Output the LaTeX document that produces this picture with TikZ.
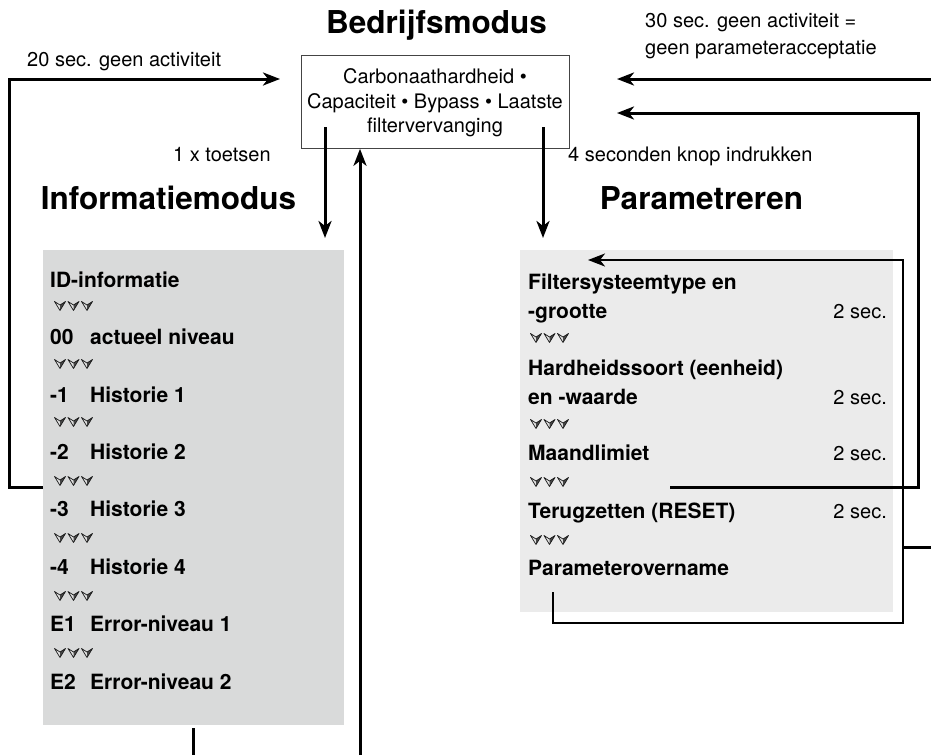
\documentclass[tikz,border=0pt]{standalone}
\usepackage{fontspec}
\setmainfont{TeX Gyre Heros}
\usetikzlibrary{arrows.meta}
\definecolor{leftgray}{HTML}{D9DADA}
\definecolor{rightgray}{HTML}{EBEBEB}
\definecolor{boxline}{HTML}{444444}
\tikzset{
  conn/.style={line width=3pt, -{Stealth[length=17pt,width=13pt,inset=5pt]}},
  plainline/.style={line width=3pt},
  title/.style={font=\fontsize{31.5}{36}\selectfont\bfseries, inner sep=0pt, anchor=base},
  lbl/.style={font=\fontsize{20}{24}\selectfont, inner sep=0pt, anchor=mid west, yshift=-4pt},
  boxtxt/.style={font=\fontsize{20}{24}\selectfont, inner sep=0pt, anchor=mid, yshift=-3pt},
  bodyb/.style={font=\fontsize{21}{25}\selectfont\bfseries, inner sep=0pt, anchor=mid west, yshift=-4.5pt},
  secs/.style={font=\fontsize{20}{24}\selectfont, inner sep=0pt, anchor=mid east, yshift=-4.5pt},
  dartrow/.pic={
    \foreach \dx in {0,13.5,27}{
      \fill[black!12] (\dx-5.5,-4.5) -- (\dx,-1) -- (\dx,4.5) -- cycle;
      \fill[black!72] (\dx,-1) -- (\dx+5.5,-4.5) -- (\dx,4.5) -- cycle;
      \draw[black!90, line width=0.7pt, line join=round] (\dx-5.5,-4.5) -- (\dx,-1) -- (\dx+5.5,-4.5) -- (\dx,4.5) -- cycle;
    }
  }
}
\begin{document}
\begin{tikzpicture}[x=1pt, y=-1pt]
\useasboundingbox (0,0) rectangle (931,755);

% gray panels
\node[fill=leftgray, minimum width=301pt, minimum height=475pt, anchor=north west, inner sep=0pt] (lbox) at (43,250) {};
\node[fill=rightgray, minimum width=373pt, minimum height=362pt, anchor=north west, inner sep=0pt] (rbox) at (520,250) {};

% main box
\node[draw=boxline, line width=0.8pt, minimum width=268pt, minimum height=93pt, anchor=north west, inner sep=0pt] (bm) at (301,55) {};
\node[boxtxt] (bm1) at (435,78) {Carbonaathardheid •};
\node[boxtxt] (bm2) at (435,103) {Capaciteit • Bypass • Laatste};
\node[boxtxt] (bm3) at (435,127) {filtervervanging};

% titles
\node[title] (tb) at (436.5,33) {Bedrijfsmodus};
\node[title] (ti) at (168.5,209) {Informatiemodus};
\node[title] (tp) at (701.5,209) {Parametreren};

% labels
\node[lbl] (l20) at (27,60) {20 sec. geen activiteit};
\node[lbl] (l1x) at (173,155) {1 x toetsen};
\node[lbl] (l4s) at (568,155) {4 seconden knop indrukken};
\node[lbl] (l30a) at (645,21) {30 sec. geen activiteit =};
\node[lbl] (l30b) at (645,48) {geen parameteracceptatie};

% left list
\node[bodyb] (i0) at (50,280) {ID-informatie};
\pic at (60,306) {dartrow};
\node[bodyb] (i1n) at (50,337) {00};
\node[bodyb] (i1t) at (90,337) {actueel niveau};
\pic at (60,364) {dartrow};
\node[bodyb] (i2n) at (50,395) {-1};
\node[bodyb] (i2t) at (90,395) {Historie 1};
\pic at (60,422) {dartrow};
\node[bodyb] (i3n) at (50,452) {-2};
\node[bodyb] (i3t) at (90,452) {Historie 2};
\pic at (60,481) {dartrow};
\node[bodyb] (i4n) at (50,509) {-3};
\node[bodyb] (i4t) at (90,509) {Historie 3};
\pic at (60,538) {dartrow};
\node[bodyb] (i5n) at (50,567) {-4};
\node[bodyb] (i5t) at (90,567) {Historie 4};
\pic at (60,596) {dartrow};
\node[bodyb] (i6n) at (50,624) {E1};
\node[bodyb] (i6t) at (90,624) {Error-niveau 1};
\pic at (60,653) {dartrow};
\node[bodyb] (i7n) at (50,682) {E2};
\node[bodyb] (i7t) at (90,682) {Error-niveau 2};

% right list
\node[bodyb] (p1a) at (528,282) {Filtersysteemtype en};
\node[bodyb] (p1b) at (528,311) {-grootte};
\node[secs] (s1) at (887,311) {2 sec.};
\pic at (536,338) {dartrow};
\node[bodyb] (p2a) at (528,368) {Hardheidssoort (eenheid)};
\node[bodyb] (p2b) at (528,397) {en -waarde};
\node[secs] (s2) at (887,397) {2 sec.};
\pic at (536,424) {dartrow};
\node[bodyb] (p3) at (528,453) {Maandlimiet};
\node[secs] (s3) at (887,453) {2 sec.};
\pic at (536,482) {dartrow};
\node[bodyb] (p4) at (528,511) {Terugzetten (RESET)};
\node[secs] (s4) at (887,511) {2 sec.};
\pic at (536,540) {dartrow};
\node[bodyb] (p5) at (528,568) {Parameterovername};

% connector end points
\coordinate (lret) at (43,487);
\coordinate (lret1) at (9,487);
\coordinate (lret2) at (9,79);
\coordinate (ltip) at (280,79);
\coordinate (dls) at (325,127);
\coordinate (dlt) at (325,238);
\coordinate (drs) at (543,127);
\coordinate (drt) at (543,238);
\coordinate (ub) at (360,755);
\coordinate (aR) at (931,79);
\coordinate (aT) at (617,79);
\coordinate (bS) at (670,487);
\coordinate (b1) at (918,487);
\coordinate (b2) at (918,113);
\coordinate (bT) at (617,113);
\coordinate (cS) at (553,592);
\coordinate (c1) at (553,623);
\coordinate (c2) at (903,623);
\coordinate (c3) at (903,260);
\coordinate (cT) at (588,260);
\coordinate (dS) at (903,547);
\coordinate (dE) at (931,547);
\coordinate (bs1) at (193,728);
\coordinate (bs2) at (193,755);

% connectors
\draw[conn] (lret) -- (lret1) -- (lret2) -- (ltip);
\draw[conn] (dls) -- (dlt);
\draw[conn] (drs) -- (drt);
\draw[conn] (ub) -- (ub |- bm.south);
\draw[conn] (aR) -- (aT);
\draw[conn] (bS) -- (b1) -- (b2) -- (bT);
\draw[conn, line width=2.4pt] (cS) -- (c1) -- (c2) -- (c3) -- (cT);
\draw[plainline] (dS) -- (dE);
\draw[plainline] (bs1) -- (bs2);
\end{tikzpicture}
\end{document}
